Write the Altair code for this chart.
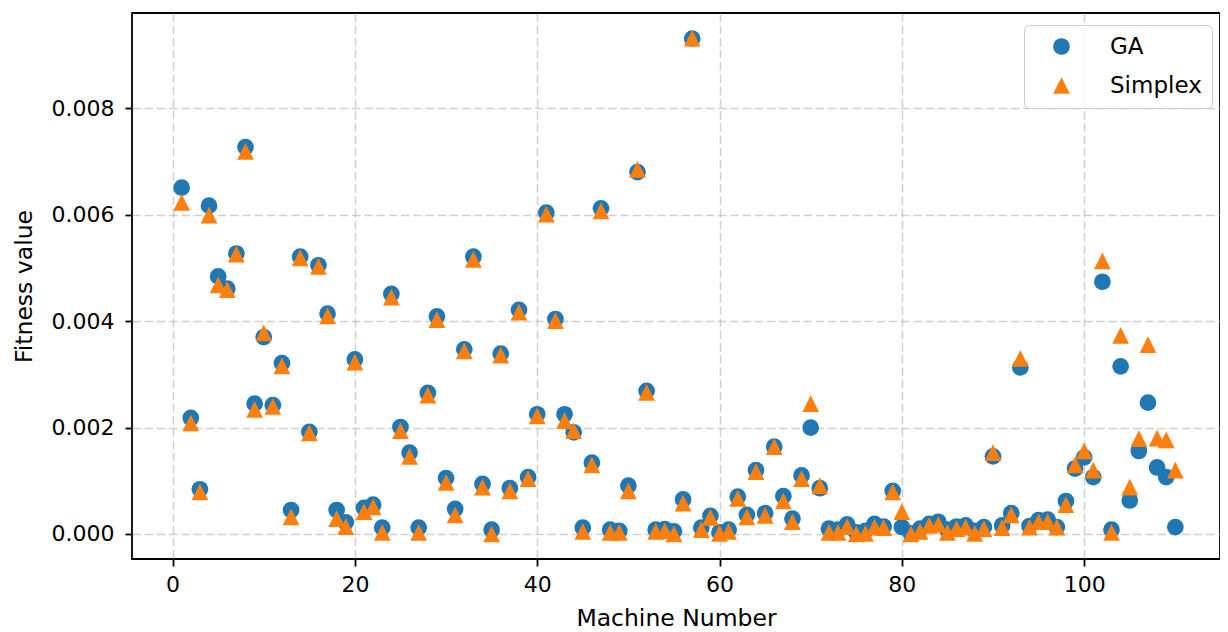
import altair as alt
import pandas as pd

machines = list(range(1, 111))

ga = [6.51, 2.18, 0.84, 6.17, 4.84, 4.61, 5.27, 7.27, 2.45, 3.70,
      2.42, 3.21, 0.45, 5.21, 1.92, 5.05, 4.14, 0.45, 0.22, 3.28,
      0.49, 0.55, 0.12, 4.51, 2.01, 1.53, 0.12, 2.65, 4.09, 1.05,
      0.47, 3.47, 5.21, 0.94, 0.08, 3.39, 0.86, 4.21, 1.07, 2.25,
      6.04, 4.04, 2.25, 1.91, 0.12, 1.34, 6.12, 0.08, 0.06, 0.91,
      6.80, 2.69, 0.08, 0.09, 0.05, 0.65, 9.31, 0.12, 0.34, 0.03,
      0.08, 0.70, 0.36, 1.20, 0.39, 1.64, 0.71, 0.29, 1.10, 2.00,
      0.86, 0.10, 0.08, 0.18, 0.03, 0.06, 0.19, 0.14, 0.81, 0.13,
      0.01, 0.10, 0.19, 0.23, 0.08, 0.14, 0.16, 0.06, 0.13, 1.46,
      0.16, 0.39, 3.13, 0.15, 0.26, 0.27, 0.13, 0.62, 1.23, 1.44,
      1.07, 4.74, 0.08, 3.15, 0.63, 1.56, 2.47, 1.25, 1.07, 0.13]

simplex = [6.23, 2.09, 0.79, 5.99, 4.68, 4.59, 5.26, 7.19, 2.34, 3.78,
           2.40, 3.16, 0.32, 5.19, 1.90, 5.03, 4.10, 0.29, 0.14, 3.23,
           0.42, 0.51, 0.03, 4.45, 1.94, 1.46, 0.03, 2.61, 4.03, 0.97,
           0.36, 3.44, 5.16, 0.88, 0.00, 3.36, 0.81, 4.17, 1.04, 2.22,
           6.01, 4.01, 2.13, 1.94, 0.05, 1.30, 6.07, 0.03, 0.03, 0.81,
           6.85, 2.66, 0.05, 0.06, 0.00, 0.58, 9.32, 0.08, 0.31, 0.01,
           0.05, 0.67, 0.32, 1.17, 0.35, 1.64, 0.62, 0.23, 1.04, 2.45,
           0.91, 0.03, 0.03, 0.14, 0.00, 0.01, 0.13, 0.12, 0.79, 0.42,
           0.00, 0.05, 0.16, 0.18, 0.03, 0.10, 0.13, 0.01, 0.10, 1.53,
           0.12, 0.36, 3.30, 0.13, 0.23, 0.23, 0.13, 0.55, 1.30, 1.56,
           1.20, 5.13, 0.03, 3.73, 0.88, 1.79, 3.56, 1.80, 1.77, 1.20]

series_names = ["GA", "Simplex"]
series_colors = ["#1f77b4", "#ff7f0e"]
series_shapes = ["circle", "M0,-1L-1,1L1,1Z"]

x_ticks = [0, 20, 40, 60, 80, 100]
y_ticks = [0.0, 0.002, 0.004, 0.006, 0.008]

rows = []
for name, vals in zip(series_names, [ga, simplex]):
    for m, v in zip(machines, vals):
        rows.append({"machine": m, "fitness": v * 1e-3, "method": name})
df = pd.DataFrame(rows)

legend = alt.Legend(
    title=None, orient="none", legendX=892, legendY=12,
    symbolSize=280, symbolStrokeWidth=0, symbolOpacity=1,
    labelFont="DejaVu Sans", labelFontSize=23, labelColor="black",
    padding=10, rowPadding=15, labelOffset=37, symbolOffset=16,
    strokeColor="#cccccc", fillColor="rgba(255,255,255,0.8)", cornerRadius=5,
)

chart = alt.Chart(df).mark_point(filled=True, opacity=1, strokeWidth=0, size=280).encode(
    x=alt.X("machine:Q",
            scale=alt.Scale(domain=[-4.45, 114.9], nice=False, zero=False),
            axis=alt.Axis(title="Machine Number", values=x_ticks, format="d",
                          labelPadding=8, titleY=66, titleBaseline="alphabetic")),
    y=alt.Y("fitness:Q",
            scale=alt.Scale(domain=[-0.00047, 0.00979], nice=False, zero=False),
            axis=alt.Axis(title="Fitness value", values=y_ticks, format=".3f",
                          labelPadding=11, titleX=-101, titleY=273,
                          titleBaseline="alphabetic", titleAngle=270)),
    color=alt.Color("method:N",
                    scale=alt.Scale(domain=series_names, range=series_colors),
                    legend=legend),
    shape=alt.Shape("method:N",
                    scale=alt.Scale(domain=series_names, range=series_shapes),
                    legend=legend),
).properties(
    width=1088, height=546,
    autosize=alt.AutoSizeParams(type="none"),
    padding={"left": 124, "top": 5, "right": 0, "bottom": 74},
).configure_view(
    stroke="black", strokeWidth=1.8
).configure_axis(
    domain=False, grid=True, gridColor="#b0b0b0", gridOpacity=0.6,
    gridDash=[8.5, 3.7], gridWidth=1.5,
    tickColor="black", tickWidth=1.8, tickSize=7,
    labelFont="DejaVu Sans", labelFontSize=22, labelColor="black",
    titleFont="DejaVu Sans", titleFontSize=23.5, titleFontWeight="normal",
    titleColor="black",
)

chart.save("out.html", embed_options={"renderer": "svg", "actions": False})
